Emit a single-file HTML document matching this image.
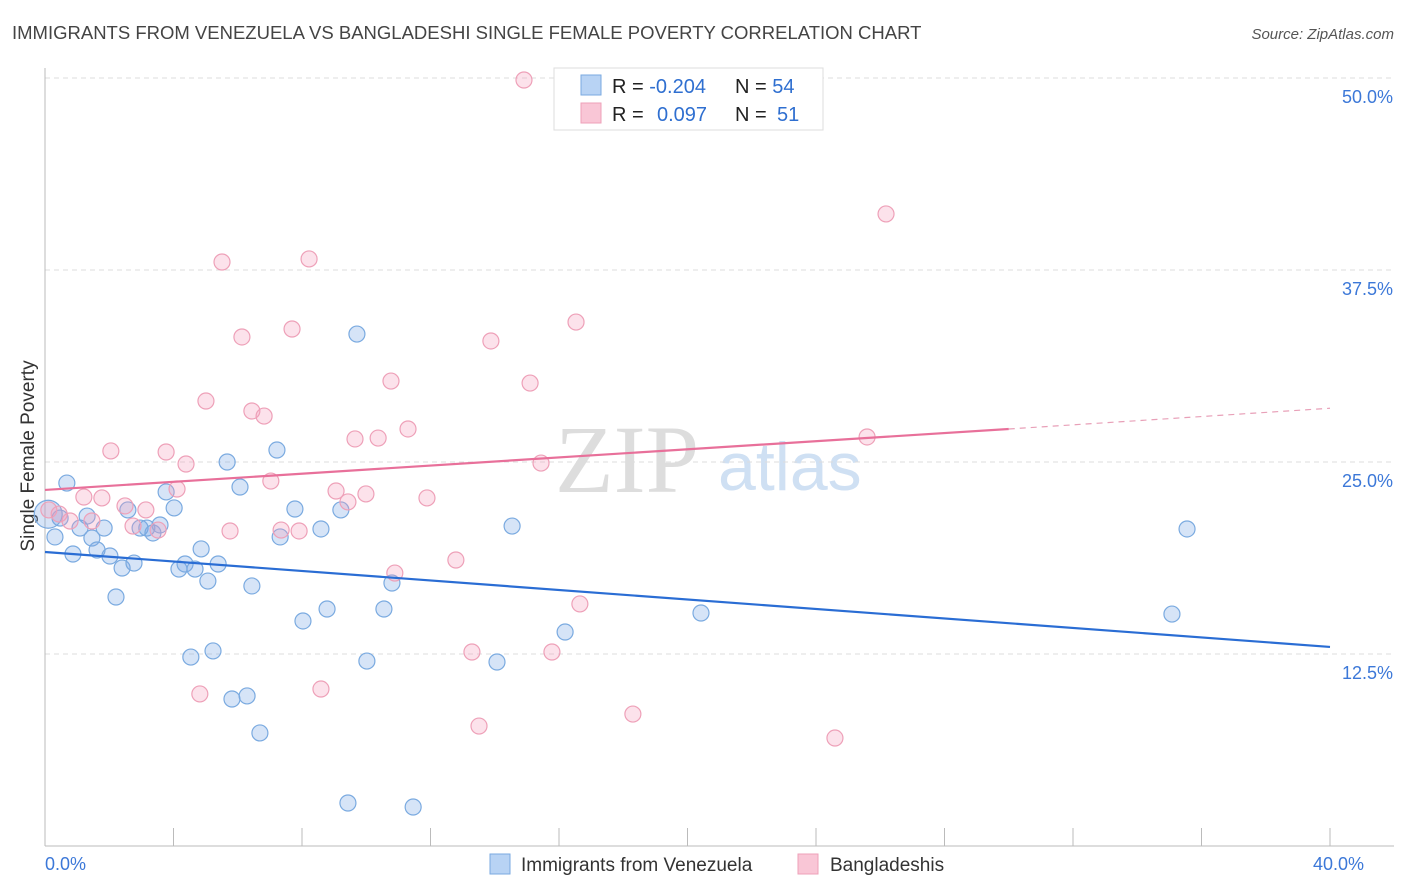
<!DOCTYPE html>
<html><head><meta charset="utf-8"><style>
body{margin:0;background:#fff;font-family:"Liberation Sans",sans-serif;}
svg{display:block}
</style></head><body>
<svg id="c" width="1406" height="892">
<text x="12" y="39" font-size="18.5" fill="#444">IMMIGRANTS FROM VENEZUELA VS BANGLADESHI SINGLE FEMALE POVERTY CORRELATION CHART</text>
<text x="1394" y="39" font-size="15" fill="#555" font-style="italic" text-anchor="end">Source: ZipAtlas.com</text>
<text x="555" y="492" font-size="96" fill="#ddd" font-family="Liberation Serif">ZIP</text>
<text x="718" y="490" font-size="68" fill="#cfe0f3">atlas</text>
<text x="34" y="456" font-size="19" fill="#333" transform="rotate(-90 34 456)" text-anchor="middle">Single Female Poverty</text>
<g id="grid"></g><g id="marks"></g>
<g>
<rect x="554" y="68" width="269" height="62" fill="#fff" stroke="#ddd"/>
<rect x="581" y="75" width="20" height="20" fill="#b8d3f4" stroke="#7aaae0"/>
<rect x="581" y="103" width="20" height="20" fill="#f9c6d6" stroke="#eea0b8"/>
<text x="612" y="93" font-size="20" fill="#222">R = <tspan fill="#2f6fd0">-0.204</tspan></text>
<text x="735" y="93" font-size="20" fill="#222">N = <tspan fill="#2f6fd0">54</tspan></text>
<text x="612" y="121" font-size="20" fill="#222">R = <tspan fill="#2f6fd0" x="657">0.097</tspan></text>
<text x="735" y="121" font-size="20" fill="#222">N = <tspan fill="#2f6fd0" x="777">51</tspan></text>
</g>
<g>
<rect x="490" y="854" width="20" height="20" fill="#b8d3f4" stroke="#7aaae0"/>
<text x="521" y="871" font-size="19" fill="#333">Immigrants from Venezuela</text>
<rect x="798" y="854" width="20" height="20" fill="#f9c6d6" stroke="#eea0b8"/>
<text x="830" y="871" font-size="19" fill="#333">Bangladeshis</text>
</g>
</svg>
<script>
const yTicks=[12.5,25,37.5,50];
const xTickLabels=["0.0%","40.0%"];
const blueX=[0.68,0.31,0.47,0.87,1.09,1.31,1.46,1.62,1.84,2.02,2.21,2.40,2.58,2.77,2.96,3.17,3.36,3.58,3.77,4.02,4.17,4.36,4.67,4.86,5.07,4.54,5.23,5.39,5.67,6.07,5.82,6.29,6.44,6.69,7.22,7.32,7.78,8.03,8.59,8.78,9.21,9.43,9.71,10.02,10.55,10.80,11.46,14.07,14.54,16.19,20.42,35.08,35.55,0.1];
const blueY=[23.63,20.12,21.35,19.01,20.70,21.48,20.05,19.27,20.70,18.88,16.21,18.10,21.88,18.42,20.70,20.70,20.38,20.90,23.05,22.01,18.03,18.36,18.03,19.34,17.25,12.30,12.70,18.36,25.00,23.37,9.57,9.77,16.93,7.36,25.78,20.12,21.94,14.65,20.64,15.43,21.88,2.80,33.33,12.04,15.43,17.12,2.54,11.98,20.83,13.93,15.17,15.10,20.64,21.6];
const pinkX=[0.12,0.44,0.78,1.21,1.46,1.77,2.05,2.49,2.74,3.14,3.52,3.77,4.11,4.39,4.82,5.01,5.51,5.76,6.13,6.44,6.82,7.03,7.35,7.69,7.91,8.22,8.59,9.06,9.43,9.65,9.99,10.37,10.77,10.89,11.30,11.89,12.79,13.29,13.51,13.88,14.91,15.10,15.44,15.78,16.53,16.65,18.30,24.59,25.59,26.18];
const pinkY=[21.88,21.61,21.16,22.72,21.16,22.66,25.72,22.14,20.83,21.88,20.57,25.65,23.24,24.87,9.90,28.97,38.02,20.51,33.14,28.32,27.99,23.76,20.57,33.66,20.51,38.22,10.22,23.11,22.40,26.50,22.92,26.56,30.27,17.77,27.15,22.66,18.62,12.63,7.81,32.88,49.87,30.14,24.93,12.63,34.11,15.76,8.59,7.03,26.63,41.15];
const blueLine=[19.14,12.96];
const pinkLine=[23.18,27.15,28.5];
const NS="http://www.w3.org/2000/svg";
const X=v=>45+v/40*1285, Y=v=>846-v*15.36;
function mk(t,a,p){const e=document.createElementNS(NS,t);for(const k in a)e.setAttribute(k,a[k]);p.appendChild(e);return e;}
const g=document.getElementById('grid'),m=document.getElementById('marks');
yTicks.forEach(t=>{
 const l=mk('line',{x1:45,x2:1394,y1:Y(t),y2:Y(t),stroke:'#ddd','stroke-dasharray':'5,4'},g);
 
 
 const tx=mk('text',{x:1393,y:Y(t)+25,'font-size':18,fill:'#3c78d8','text-anchor':'end'},g);
 tx.textContent=t.toFixed(1)+'%';
 
 
});
mk('line',{x1:45,x2:45,y1:68,y2:846,stroke:'#bbb'},g);
mk('line',{x1:45,x2:1394,y1:846,y2:846,stroke:'#bbb'},g);
for(let i=0;i<=10;i++){const t=mk('line',{x1:X(i*4),x2:X(i*4),y1:828,y2:846,stroke:'#bbb'},g);
 
 }
[[0,'start'],[40,'end']].forEach((d,i)=>{const t=mk('text',{x:X(d[0])+(i?63-29:0),y:870,'font-size':18,fill:'#3c78d8','text-anchor':d[1]},g);
 t.textContent=xTickLabels[i];
 
 });
function dots(xs,ys,fill,stroke,name){xs.forEach((x,i)=>{const big=i===xs.length-1&&name==='venezuela-point';
 const c=mk('circle',{cx:X(x),cy:Y(ys[i]),r:big?14:8,fill,stroke,'stroke-width':1.2},m);
 
 });}
dots(blueX,blueY,'rgba(120,165,230,0.3)','#7aaae0','venezuela-point');
dots(pinkX,pinkY,'rgba(245,160,190,0.3)','#eea0b8','bangladeshi-point');
const bl=mk('line',{x1:X(0),y1:Y(blueLine[0]),x2:X(40),y2:Y(blueLine[1]),stroke:'#2a6dd4','stroke-width':2.2},m);


const pl=mk('line',{x1:X(0),y1:Y(pinkLine[0]),x2:X(30),y2:Y(pinkLine[1]),stroke:'#e8709a','stroke-width':2.2},m);


const pd=mk('line',{x1:X(30),y1:Y(pinkLine[1]),x2:X(40),y2:Y(pinkLine[2]),stroke:'#e8a0b8','stroke-width':1.2,'stroke-dasharray':'6,5'},m);


</script>
</body></html>
